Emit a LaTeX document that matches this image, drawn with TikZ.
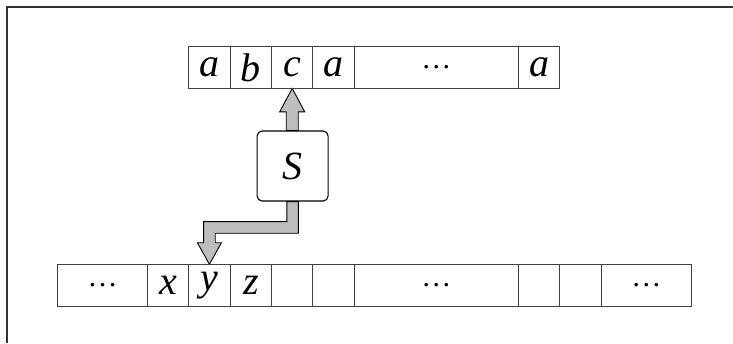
\documentclass[tikz,border=0pt]{standalone}
\usepackage{fontspec}
\setmainfont{Liberation Serif}
\usetikzlibrary{calc,backgrounds}
\definecolor{framegray}{HTML}{333333}
\definecolor{tapegray}{HTML}{404040}
\definecolor{arrowgray}{HTML}{BEBEBE}
\newcommand{\letterfont}{\fontsize{40}{44}\selectfont\itshape}
\newcommand{\gapfont}{\fontsize{30}{34}\selectfont\upshape}
\newcommand{\machinefont}{\fontsize{40}{44}\selectfont\itshape}
\begin{document}
\begin{tikzpicture}[x=1pt,y=-1pt,
  cell/.style={draw=tapegray, line width=0.9pt, inner sep=0pt, outer sep=0pt,
    minimum width=41.4pt, minimum height=41.8pt, anchor=west},
  wide/.style={minimum width=164.2pt},
  edge/.style={minimum width=#1},
  machine/.style={draw=black, line width=1.1pt, rounded corners=5pt, fill=white,
    minimum width=71pt, minimum height=70pt, inner sep=0pt},
  fatarrow/.style={draw=black, line width=0.9pt, fill=arrowgray, line join=miter}
]
\useasboundingbox (0,0) rectangle (733,343);

% outer frame (top and left edges)
\draw[framegray, line width=1.4pt] (7,343) -- (7,7) -- (733,7);

% upper tape
\node[cell] (ta1) at (188.7,67.5) {\letterfont a};
\node[cell] (tb)  at (ta1.east) {\letterfont b};
\node[cell] (tc)  at (tb.east) {\letterfont c};
\node[cell] (ta2) at (tc.east) {\letterfont a};
\node[cell, wide] (tgap) at (ta2.east) {\gapfont …};
\node[cell] (ta3) at (tgap.east) {\letterfont a};

% lower tape
\node[cell, edge=89.6pt] (bgap1) at (57.7,285.2) {\gapfont …};
\node[cell] (bx) at (bgap1.east) {\letterfont x};
\node[cell] (by) at (bx.east) {\letterfont y};
\node[cell] (bz) at (by.east) {\letterfont z};
\node[cell] (be1) at (bz.east) {};
\node[cell] (be2) at (be1.east) {};
\node[cell, wide] (bgap2) at (be2.east) {\gapfont …};
\node[cell] (be3) at (bgap2.east) {};
\node[cell] (be4) at (be3.east) {};
\node[cell, edge=90pt] (bgap3) at (be4.east) {\gapfont …};

% the machine
\node[machine] (S) at (292.6,166) {\machinefont S};

\begin{scope}[on background layer]
  % writes upward into the upper tape
  \filldraw[fatarrow] let \p1=(S.north), \p2=(tc.south) in
    (\x2-6pt,\y1) -- (\x2-6pt,\y2-23.4pt) -- (\x2-12.5pt,\y2-23.4pt) -- (\p2)
    -- (\x2+12.5pt,\y2-23.4pt) -- (\x2+6pt,\y2-23.4pt) -- (\x2+6pt,\y1) -- cycle;
  % reads from the lower tape
  \filldraw[fatarrow] let \p1=(S.south), \p2=(by.north) in
    (\x1+5.8pt,\y1) -- (\x1+5.8pt,\y1-31.7pt) -- (\x2+5.8pt,\y1-31.7pt)
    -- (\x2+5.8pt,\y2+21.6pt) -- (\x2+12pt,\y2+21.6pt) -- (\p2)
    -- (\x2-12pt,\y2+21.6pt) -- (\x2-5.8pt,\y2+21.6pt) -- (\x2-5.8pt,\y1-20pt)
    -- (\x1-5.8pt,\y1-20pt) -- (\x1-5.8pt,\y1) -- cycle;
\end{scope}
\end{tikzpicture}
\end{document}
